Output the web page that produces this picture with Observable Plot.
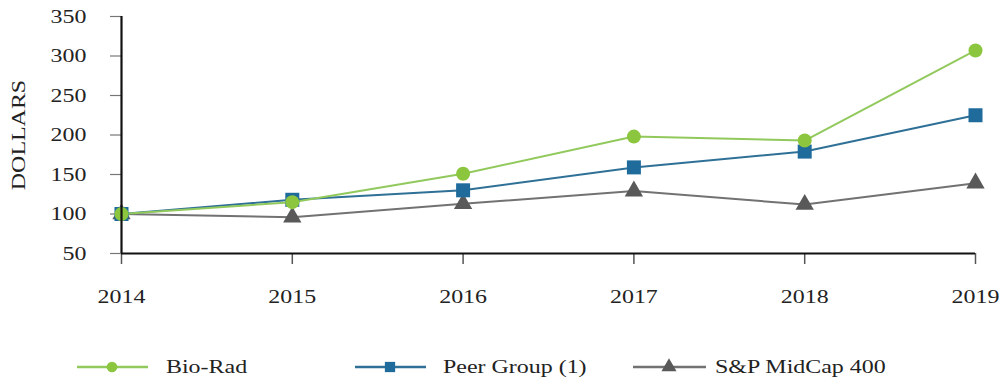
<!DOCTYPE html>
<html>
<head>
<meta charset="utf-8">
<script src="https://cdn.jsdelivr.net/npm/d3@7"></script>
<script src="https://cdn.jsdelivr.net/npm/@observablehq/plot@0.6"></script>
<style>
  body { margin: 0; background: #fff; font-family: "Liberation Serif", "Times New Roman", serif; }
  #wrap { position: relative; width: 1008px; height: 388px; overflow: hidden; }
  #legend { position: absolute; left: 0; top: 330px; width: 1008px; height: 58px; }
  .item { position: absolute; top: 24px; height: 26px; }
  .lab { position: absolute; top: 26px; font-size: 19px; color: #222; transform: scaleX(1.26); transform-origin: left center; white-space: nowrap; line-height: 26px; }
</style>
</head>
<body>
<div id="wrap">
  <div id="chart"></div>
  <div id="legend"></div>
</div>
<script>
const years = [2014, 2015, 2016, 2017, 2018, 2019];
const bioRad = [100, 115, 151, 198, 193, 307];
const peerGroup = [100, 118, 130, 159, 179, 225];
const spMidCap = [100, 96, 113, 129, 112, 139];
const seriesNames = ["Bio-Rad", "Peer Group (1)", "S&P MidCap 400"];
const yTicks = [50, 100, 150, 200, 250, 300, 350];

const lineColors = ["#92c95c", "#2f7097", "#727272"];
const markColors = ["#8cc63f", "#1f6b9b", "#595959"];
const symbols = ["circle", "square", "triangle"];
const radii = [7, 7.9, 6.8];
const legendRadii = [5.3, 5.8, 5.6];

const allSeries = [bioRad, peerGroup, spMidCap];
const rows = [];
allSeries.forEach((vals, si) => vals.forEach((v, i) => rows.push({series: seriesNames[si], idx: si, year: years[i], value: v})));

const marks = [];
[2, 1, 0].forEach(si => {
  const d = rows.filter(r => r.idx === si);
  marks.push(Plot.line(d, {x: "year", y: "value", stroke: lineColors[si], strokeWidth: 2}));
});
[2, 1, 0].forEach(si => {
  const d = rows.filter(r => r.idx === si);
  marks.push(Plot.dot(d, {x: "year", y: "value", fill: markColors[si], stroke: "none", symbol: symbols[si], r: radii[si]}));
});

const chart = Plot.plot({
  width: 1008,
  height: 330,
  marginLeft: 121,
  marginRight: 33,
  marginTop: 16,
  marginBottom: 77,
  style: {fontFamily: "Liberation Serif, Times New Roman, serif", fontSize: "19px", color: "#222", background: "#fff"},
  x: {domain: [2014, 2019]},
  y: {domain: [50, 350]},
  marks: [
    Plot.axisX({ticks: years, tickFormat: d => String(d), tickSize: 11, tickPadding: 25, stroke: "#555", strokeWidth: 1.5, label: null}),
    Plot.axisY({ticks: yTicks, tickSize: 11, tickPadding: 24, stroke: "#777", strokeWidth: 1.2, label: null}),
    Plot.text(["DOLLARS"], {frameAnchor: "left", dx: -103, rotate: -90, fontSize: 19, fill: "#222", textAnchor: "middle"}),
    ...marks,
    Plot.ruleX([2014], {y1: 50, y2: 350, stroke: "#111", strokeWidth: 2.2}),
    Plot.ruleY([50], {x1: 2014, x2: 2019, stroke: "#111", strokeWidth: 2.2})
  ]
});
document.getElementById("chart").appendChild(chart);

chart.querySelectorAll("text").forEach(t => {
  const x = +t.getAttribute("x") || 0;
  const y = +t.getAttribute("y") || 0;
  const tr = t.getAttribute("transform") || "";
  t.setAttribute("transform", `${tr} translate(${x},${y}) scale(1.26,1) translate(${-x},${-y})`);
});

const legend = document.getElementById("legend");
const legendPos = [
  {x1: 77, x2: 148, mx: 112, tx: 166},
  {x1: 355, x2: 426, mx: 390, tx: 443},
  {x1: 633, x2: 706, mx: 669, tx: 715}
];
seriesNames.forEach((name, i) => {
  const p = legendPos[i];
  const w = p.x2 - p.x1;
  const item = document.createElement("div");
  item.className = "item";
  item.style.left = p.x1 + "px";
  item.style.width = w + "px";
  const svg = d3.create("svg").attr("width", w).attr("height", 26);
  svg.append("line").attr("x1", 0).attr("x2", w).attr("y1", 13).attr("y2", 13).attr("stroke", lineColors[i]).attr("stroke-width", 2.5);
  const sym = {circle: d3.symbolCircle, square: d3.symbolSquare, triangle: d3.symbolTriangle}[symbols[i]];
  svg.append("path").attr("transform", `translate(${p.mx - p.x1},13)`)
    .attr("d", d3.symbol(sym, Math.PI * legendRadii[i] * legendRadii[i])()).attr("fill", markColors[i]);
  item.appendChild(svg.node());
  legend.appendChild(item);
  const lab = document.createElement("div");
  lab.className = "lab";
  lab.style.left = p.tx + "px";
  lab.style.top = "24px";
  lab.textContent = name;
  legend.appendChild(lab);
});
</script>
</body>
</html>
